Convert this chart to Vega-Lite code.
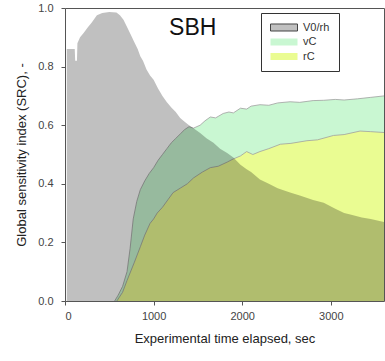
{
  "$schema": "https://vega.github.io/schema/vega-lite/v6.json",
  "width": 319,
  "height": 293,
  "autosize": {"type": "none"},
  "padding": {"left": 65, "top": 8, "right": 1, "bottom": 60},
  "background": "white",
  "config": {
    "font": "Liberation Sans",
    "view": {"stroke": "#555555", "strokeWidth": 1},
    "axis": {"domain": false, "grid": false, "tickColor": "#555555", "tickSize": 4, "labelFontSize": 11, "labelColor": "#444444", "titleFontSize": 13, "titleFontWeight": "normal", "titleColor": "#222222", "labelFont": "Liberation Sans", "titleFont": "Liberation Sans"}
  },
  "datasets": {
    "src": [
      {"t": 20, "s": "V0/rh", "v": 0.86},
      {"t": 110, "s": "V0/rh", "v": 0.86},
      {"t": 115, "s": "V0/rh", "v": 0.82},
      {"t": 135, "s": "V0/rh", "v": 0.82},
      {"t": 140, "s": "V0/rh", "v": 0.88},
      {"t": 170, "s": "V0/rh", "v": 0.9},
      {"t": 210, "s": "V0/rh", "v": 0.915},
      {"t": 260, "s": "V0/rh", "v": 0.935},
      {"t": 300, "s": "V0/rh", "v": 0.95},
      {"t": 360, "s": "V0/rh", "v": 0.975},
      {"t": 420, "s": "V0/rh", "v": 0.983},
      {"t": 500, "s": "V0/rh", "v": 0.986},
      {"t": 580, "s": "V0/rh", "v": 0.985},
      {"t": 620, "s": "V0/rh", "v": 0.975},
      {"t": 660, "s": "V0/rh", "v": 0.96},
      {"t": 700, "s": "V0/rh", "v": 0.935},
      {"t": 740, "s": "V0/rh", "v": 0.91},
      {"t": 780, "s": "V0/rh", "v": 0.885},
      {"t": 820, "s": "V0/rh", "v": 0.86},
      {"t": 850, "s": "V0/rh", "v": 0.835},
      {"t": 880, "s": "V0/rh", "v": 0.82},
      {"t": 920, "s": "V0/rh", "v": 0.79},
      {"t": 960, "s": "V0/rh", "v": 0.77},
      {"t": 1000, "s": "V0/rh", "v": 0.755},
      {"t": 1050, "s": "V0/rh", "v": 0.725},
      {"t": 1100, "s": "V0/rh", "v": 0.7},
      {"t": 1150, "s": "V0/rh", "v": 0.678},
      {"t": 1200, "s": "V0/rh", "v": 0.66},
      {"t": 1250, "s": "V0/rh", "v": 0.645},
      {"t": 1300, "s": "V0/rh", "v": 0.625},
      {"t": 1350, "s": "V0/rh", "v": 0.612},
      {"t": 1400, "s": "V0/rh", "v": 0.6},
      {"t": 1450, "s": "V0/rh", "v": 0.59},
      {"t": 1525, "s": "V0/rh", "v": 0.573},
      {"t": 1600, "s": "V0/rh", "v": 0.555},
      {"t": 1675, "s": "V0/rh", "v": 0.54},
      {"t": 1750, "s": "V0/rh", "v": 0.52},
      {"t": 1830, "s": "V0/rh", "v": 0.505},
      {"t": 1900, "s": "V0/rh", "v": 0.49},
      {"t": 1980, "s": "V0/rh", "v": 0.465},
      {"t": 2050, "s": "V0/rh", "v": 0.45},
      {"t": 2100, "s": "V0/rh", "v": 0.44},
      {"t": 2200, "s": "V0/rh", "v": 0.415},
      {"t": 2300, "s": "V0/rh", "v": 0.4},
      {"t": 2400, "s": "V0/rh", "v": 0.385},
      {"t": 2540, "s": "V0/rh", "v": 0.37},
      {"t": 2650, "s": "V0/rh", "v": 0.36},
      {"t": 2800, "s": "V0/rh", "v": 0.345},
      {"t": 2920, "s": "V0/rh", "v": 0.335},
      {"t": 3050, "s": "V0/rh", "v": 0.315},
      {"t": 3150, "s": "V0/rh", "v": 0.3},
      {"t": 3220, "s": "V0/rh", "v": 0.295},
      {"t": 3350, "s": "V0/rh", "v": 0.285},
      {"t": 3450, "s": "V0/rh", "v": 0.28},
      {"t": 3600, "s": "V0/rh", "v": 0.27},
      {"t": 560, "s": "vC", "v": 0},
      {"t": 600, "s": "vC", "v": 0.02},
      {"t": 650, "s": "vC", "v": 0.05},
      {"t": 700, "s": "vC", "v": 0.1},
      {"t": 735, "s": "vC", "v": 0.18},
      {"t": 770, "s": "vC", "v": 0.28},
      {"t": 810, "s": "vC", "v": 0.34},
      {"t": 850, "s": "vC", "v": 0.38},
      {"t": 900, "s": "vC", "v": 0.41},
      {"t": 950, "s": "vC", "v": 0.435},
      {"t": 1000, "s": "vC", "v": 0.455},
      {"t": 1050, "s": "vC", "v": 0.48},
      {"t": 1100, "s": "vC", "v": 0.5},
      {"t": 1150, "s": "vC", "v": 0.52},
      {"t": 1200, "s": "vC", "v": 0.54},
      {"t": 1250, "s": "vC", "v": 0.555},
      {"t": 1300, "s": "vC", "v": 0.57},
      {"t": 1350, "s": "vC", "v": 0.585},
      {"t": 1400, "s": "vC", "v": 0.595},
      {"t": 1450, "s": "vC", "v": 0.59},
      {"t": 1525, "s": "vC", "v": 0.6},
      {"t": 1580, "s": "vC", "v": 0.615},
      {"t": 1640, "s": "vC", "v": 0.628},
      {"t": 1700, "s": "vC", "v": 0.625},
      {"t": 1785, "s": "vC", "v": 0.64},
      {"t": 1850, "s": "vC", "v": 0.645},
      {"t": 1900, "s": "vC", "v": 0.642},
      {"t": 1980, "s": "vC", "v": 0.658},
      {"t": 2050, "s": "vC", "v": 0.655},
      {"t": 2100, "s": "vC", "v": 0.665},
      {"t": 2200, "s": "vC", "v": 0.67},
      {"t": 2300, "s": "vC", "v": 0.668},
      {"t": 2400, "s": "vC", "v": 0.676},
      {"t": 2540, "s": "vC", "v": 0.68},
      {"t": 2650, "s": "vC", "v": 0.678},
      {"t": 2800, "s": "vC", "v": 0.684},
      {"t": 2920, "s": "vC", "v": 0.685},
      {"t": 3050, "s": "vC", "v": 0.688},
      {"t": 3150, "s": "vC", "v": 0.686},
      {"t": 3300, "s": "vC", "v": 0.69},
      {"t": 3450, "s": "vC", "v": 0.695},
      {"t": 3600, "s": "vC", "v": 0.7},
      {"t": 585, "s": "rC", "v": 0},
      {"t": 650, "s": "rC", "v": 0.03},
      {"t": 700, "s": "rC", "v": 0.07},
      {"t": 780, "s": "rC", "v": 0.13},
      {"t": 850, "s": "rC", "v": 0.185},
      {"t": 900, "s": "rC", "v": 0.225},
      {"t": 960, "s": "rC", "v": 0.265},
      {"t": 1000, "s": "rC", "v": 0.28},
      {"t": 1040, "s": "rC", "v": 0.3},
      {"t": 1100, "s": "rC", "v": 0.32},
      {"t": 1160, "s": "rC", "v": 0.345},
      {"t": 1220, "s": "rC", "v": 0.37},
      {"t": 1300, "s": "rC", "v": 0.385},
      {"t": 1380, "s": "rC", "v": 0.4},
      {"t": 1450, "s": "rC", "v": 0.42},
      {"t": 1550, "s": "rC", "v": 0.44},
      {"t": 1640, "s": "rC", "v": 0.455},
      {"t": 1730, "s": "rC", "v": 0.46},
      {"t": 1830, "s": "rC", "v": 0.474},
      {"t": 1900, "s": "rC", "v": 0.485},
      {"t": 1980, "s": "rC", "v": 0.495},
      {"t": 2050, "s": "rC", "v": 0.51},
      {"t": 2120, "s": "rC", "v": 0.5},
      {"t": 2200, "s": "rC", "v": 0.51},
      {"t": 2300, "s": "rC", "v": 0.52},
      {"t": 2430, "s": "rC", "v": 0.535},
      {"t": 2550, "s": "rC", "v": 0.538},
      {"t": 2730, "s": "rC", "v": 0.547},
      {"t": 2850, "s": "rC", "v": 0.55},
      {"t": 3030, "s": "rC", "v": 0.565},
      {"t": 3150, "s": "rC", "v": 0.568},
      {"t": 3330, "s": "rC", "v": 0.58},
      {"t": 3450, "s": "rC", "v": 0.578},
      {"t": 3600, "s": "rC", "v": 0.575}
    ],
    "label": [{"t": 1441, "v": 0.908, "txt": "SBH"}]
  },
  "data": {"name": "src"},
  "encoding": {
    "x": {"field": "t", "type": "quantitative", "scale": {"domain": [0, 3600], "nice": false, "zero": false}, "axis": {"values": [0, 1000, 2000, 3000], "format": "d", "title": "Experimental time elapsed, sec", "labelPadding": 5, "titlePadding": 11}},
    "y": {"field": "v", "type": "quantitative", "scale": {"domain": [0, 1], "nice": false}, "axis": {"values": [0, 0.2, 0.4, 0.6, 0.8, 1.0], "format": ".1f", "title": "Global sensitivity index (SRC), -", "labelPadding": 8, "titlePadding": 9}}
  },
  "layer": [
    {
      "transform": [{"filter": "datum.s === 'vC'"}],
      "mark": {"type": "area", "clip": true, "opacity": 1},
      "encoding": {
        "color": {"field": "s", "type": "nominal", "scale": {"domain": ["V0/rh", "vC", "rC"], "range": ["#c0c0c0", "#c9f7d2", "#eafc92"]},
          "legend": {"title": null, "orient": "none", "legendX": 196, "legendY": 5, "padding": 9, "strokeColor": "#333333", "fillColor": "white", "labelFontSize": 11, "labelColor": "#333333", "labelFont": "Liberation Sans", "symbolType": "M-1,-0.26H1V0.26H-1Z", "symbolSize": 729, "symbolOpacity": 1, "clipHeight": 11, "rowPadding": 2.5, "labelOffset": 5, "symbolStrokeWidth": 1,
            "encode": {"symbols": {"update": {"stroke": {"signal": "datum.label === 'V0/rh' ? '#444444' : 'transparent'"}, "strokeWidth": {"value": 1}}}}}
        }
      }
    },
    {
      "transform": [{"filter": "datum.s === 'rC'"}],
      "mark": {"type": "area", "clip": true, "opacity": 1},
      "encoding": {"color": {"field": "s", "type": "nominal"}}
    },
    {
      "transform": [{"filter": "datum.s !== 'V0/rh'"}],
      "mark": {"type": "line", "clip": true, "color": "#a0a0a0", "strokeWidth": 0.8},
      "encoding": {"detail": {"field": "s", "type": "nominal"}}
    },
    {
      "transform": [{"filter": "datum.s === 'V0/rh'"}],
      "mark": {"type": "area", "clip": true, "fill": "#000000", "fillOpacity": 0.247},
      "encoding": {}
    },
    {
      "data": {"name": "label"},
      "mark": {"type": "text", "fontSize": 23, "font": "Liberation Sans", "color": "#111111", "align": "center", "baseline": "alphabetic"},
      "encoding": {"text": {"field": "txt"}}
    }
  ]
}
